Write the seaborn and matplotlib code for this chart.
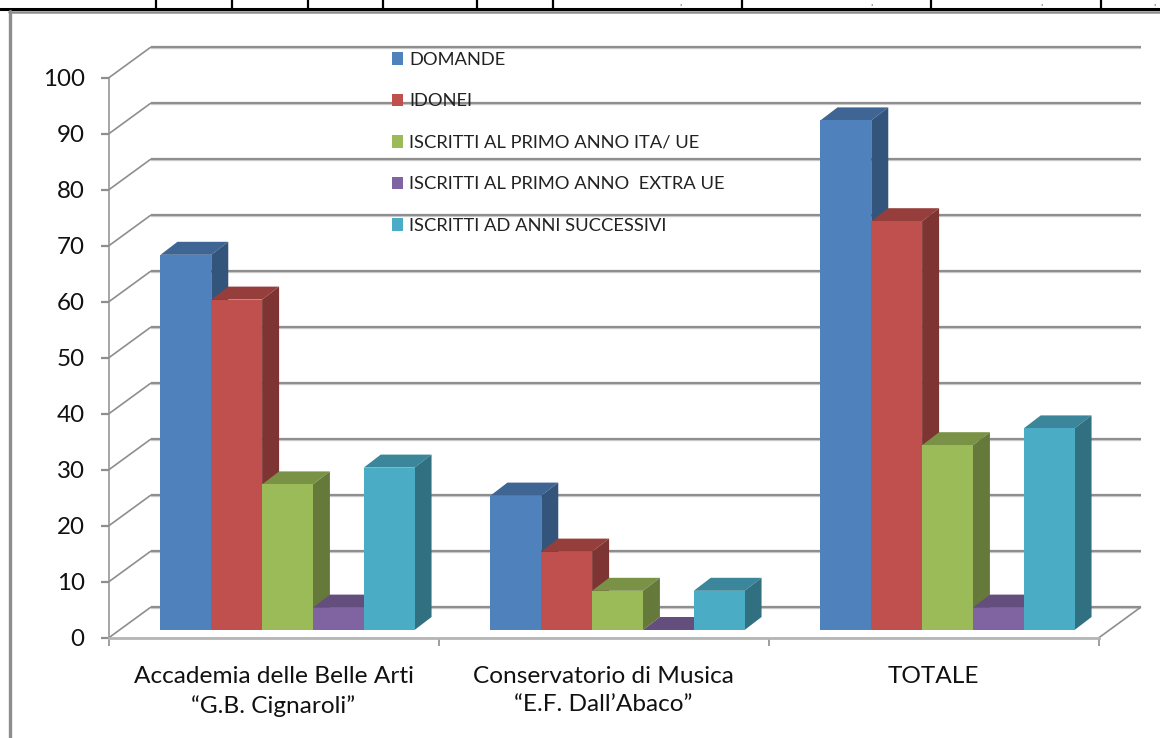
#!/usr/bin/env python3
import matplotlib
matplotlib.use("Agg")
import matplotlib.pyplot as plt
import numpy as np
import pandas as pd
import seaborn as sns
from matplotlib.colors import to_rgb
from matplotlib.patches import Patch, Polygon
from matplotlib.transforms import Affine2D

categories = [
    "Accademia delle Belle Arti\n\u201cG.B. Cignaroli\u201d",
    "Conservatorio di Musica\n\u201cE.F. Dall\u2019Abaco\u201d",
    "TOTALE",
]
series = [
    "DOMANDE",
    "IDONEI",
    "ISCRITTI AL PRIMO ANNO ITA/ UE",
    "ISCRITTI AL PRIMO ANNO  EXTRA UE",
    "ISCRITTI AD ANNI SUCCESSIVI",
]
domande = [67, 24, 91]
idonei = [59, 14, 73]
iscritti_ita_ue = [26, 7, 33]
iscritti_extra_ue = [4, 0, 4]
iscritti_successivi = [29, 7, 36]
colors = ["#4F81BD", "#C0504D", "#9BBB59", "#8064A2", "#4BACC6"]
y_ticks = list(range(0, 101, 10))

W, H = 1160, 738
GREY = "#8e8e8e"

# pixel geometry of the fake 3D box
LEFT, RIGHT, BOTTOM, TOP = 108.5, 1098.5, 638, 78
WALL_DX, WALL_DY = 42.5, 31
BAR_SHIFT = (14, 8)
BAR_DEPTH = (17, 13)


def shade(color, k):
    return tuple(c * k for c in to_rgb(color))


df = pd.DataFrame(
    {
        "cat": categories,
        series[0]: domande,
        series[1]: idonei,
        series[2]: iscritti_ita_ue,
        series[3]: iscritti_extra_ue,
        series[4]: iscritti_successivi,
    }
).melt(id_vars="cat", var_name="serie", value_name="val")

sns.set_style("white")
plt.rcParams["font.family"] = ["Lato", "DejaVu Sans"]

fig = plt.figure(figsize=(W / 100, H / 100), dpi=100)
ax = fig.add_axes([LEFT / W, 1 - BOTTOM / H, (RIGHT - LEFT) / W, (BOTTOM - TOP) / H])

sns.barplot(
    data=df, x="cat", y="val", hue="serie", hue_order=series, order=categories,
    palette=colors, saturation=1, width=0.77, gap=0, legend=False, linewidth=0, ax=ax,
)
ax.set_xlim(-0.5, 2.5)
ax.set_ylim(0, 100)
ax.set_xlabel("")
ax.set_ylabel("")

px_x = 3 / (RIGHT - LEFT)
px_y = 100 / (BOTTOM - TOP)

# back wall, floor and side wall
wall_kw = dict(color=GREY, lw=1.6, clip_on=False, zorder=1, solid_capstyle="butt")
xa, xb = ax.get_xlim()
for t in y_ticks:
    wall_y = t + WALL_DY * px_y
    ax.plot([xa + WALL_DX * px_x, xb + WALL_DX * px_x], [wall_y - px_y, wall_y - px_y],
            **{**wall_kw, "color": "#cfcfcf", "zorder": 0.9})
    ax.plot([xa + WALL_DX * px_x, xb + WALL_DX * px_x], [wall_y, wall_y], **wall_kw)
    ax.plot([xa, xa + WALL_DX * px_x], [t, wall_y], **{**wall_kw, "lw": 1.2})
ax.plot([xb, xb + WALL_DX * px_x], [0, WALL_DY * px_y], **{**wall_kw, "lw": 1.2})

# bars: slide the front faces into the box, then add top and side faces
bar_tr = ax.transData + Affine2D().translate(*BAR_SHIFT)
dx, dy = BAR_DEPTH[0] * px_x, BAR_DEPTH[1] * px_y
bars = sorted(ax.patches, key=lambda p: p.get_x())
for i, p in enumerate(bars):
    x0, w, h = p.get_x(), p.get_width(), p.get_height()
    base = p.get_facecolor()[:3]
    z = 3 + i * 0.1
    p.set_transform(bar_tr)
    p.set_clip_on(False)
    p.set_edgecolor("none")
    p.set_zorder(z + 0.02)
    top = [(x0, h), (x0 + w, h), (x0 + w + dx, h + dy), (x0 + dx, h + dy)]
    side = [(x0 + w, 0), (x0 + w + dx, dy), (x0 + w + dx, h + dy), (x0 + w, h)]
    ax.add_patch(Polygon(top, fc=shade(base, 0.78), ec="none", transform=bar_tr, clip_on=False, zorder=z))
    ax.add_patch(Polygon(side, fc=shade(base, 0.65), ec="none", transform=bar_tr, clip_on=False, zorder=z + 0.01))

# axes
ax.set_yticks(y_ticks)
ax.set_xticks([0, 1, 2], categories)
ax.set_xticks([-0.5, 0.5, 1.5, 2.5], minor=True)
ax.tick_params(axis="y", length=5.5, width=1.6, color=GREY, pad=11.7, labelsize=17.4, labelcolor="#111111", left=True)
ax.tick_params(axis="x", which="major", length=0, pad=20.3, labelsize=17.6, labelcolor="#111111")
ax.tick_params(axis="x", which="minor", length=6, width=1.2, color=GREY, bottom=True)
for lab in ax.get_xticklabels():
    lab.set_linespacing(1.42)
    lab.set_verticalalignment("top")
sns.despine(ax=ax, top=True, right=True)
ax.spines["left"].set_color(GREY)
ax.spines["left"].set_linewidth(1.1)
ax.spines["bottom"].set_color("#b4b4b4")
ax.spines["bottom"].set_linewidth(2)
ax.patch.set_alpha(0)

# legend
handles = [Patch(fc=c, ec="none", label=s) for c, s in zip(colors, series)]
fig.legend(
    handles=handles, loc="upper left", bbox_to_anchor=(391.5 / W, 1 - 52 / H),
    bbox_transform=fig.transFigure, frameon=False, fontsize=13.2, labelcolor="#222222",
    handlelength=0.65, handleheight=0.65, handletextpad=0.3, labelspacing=1.39,
    borderaxespad=0, borderpad=0,
)

# surrounding page: table rule above and chart border
page = fig.add_axes([0, 0, 1, 1], zorder=-1)
page.set_xlim(0, W)
page.set_ylim(H, 0)
page.axis("off")
page.plot([0, W], [9, 9], color="black", lw=2.2)
page.plot([9, W], [11.8, 11.8], color=GREY, lw=1.8)
page.plot([9.5, 9.5], [11, H], color=GREY, lw=2.4)
page.vlines([156, 232, 308, 383, 477, 553, 742, 931, 1101], 0, 8, color="black", lw=1.6)
for x in [681, 872, 1042, 1155]:
    page.text(x, 3, ",", fontsize=7, color="#333333", ha="center", va="center")

fig.savefig("out.png", dpi=100)
